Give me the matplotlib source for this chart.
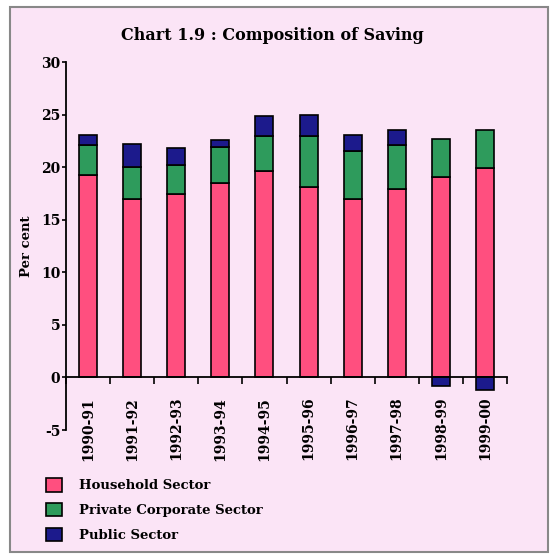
import matplotlib.pyplot as plt
from matplotlib.patches import Rectangle, Patch
import numpy as np

# Composition of saving, per cent of GDP
years = ['1990-91', '1991-92', '1992-93', '1993-94', '1994-95',
         '1995-96', '1996-97', '1997-98', '1998-99', '1999-00']
household = [19.3, 17.0, 17.4, 18.5, 19.6, 18.1, 17.0, 17.9, 19.1, 19.9]
private_corp = [2.8, 3.0, 2.8, 3.4, 3.4, 4.9, 4.5, 4.2, 3.6, 3.6]
public = [1.0, 2.2, 1.6, 0.7, 1.9, 2.0, 1.6, 1.4, -0.8, -1.2]

labels = ['Household Sector', 'Private Corporate Sector', 'Public Sector']
colors = ['#ff4f7f', '#2e9b5c', '#1c1a8c']
bg = '#fbe4f6'

plt.rcParams['font.family'] = 'DejaVu Serif'
plt.rcParams['font.weight'] = 'bold'
plt.rcParams['axes.unicode_minus'] = False

W, H = 551, 554
fig = plt.figure(figsize=(W / 100, H / 100), dpi=100)
fig.patch.set_facecolor('white')
fig.patches.append(Rectangle((10 / W, 1 - 552 / H), 538 / W, 545 / H,
                             transform=fig.transFigure, facecolor=bg,
                             edgecolor='#888888', lw=1.5, zorder=-5))

ax = fig.add_axes([66 / W, 1 - 430 / H, 441 / W, 368 / H])
ax.patch.set_alpha(0)

x = np.arange(len(years))
hh = np.array(household)
pc = np.array(private_corp)
pb = np.array(public)
pub_bottom = np.where(pb >= 0, hh + pc, 0)

kw = dict(width=0.41, edgecolor='black', linewidth=1.2)
ax.bar(x, hh, color=colors[0], **kw)
ax.bar(x, pc, bottom=hh, color=colors[1], **kw)
ax.bar(x, pb, bottom=pub_bottom, color=colors[2], **kw)

ax.set_xlim(-0.5, len(years) - 0.5)
ax.set_ylim(-5, 30)
ax.set_yticks(range(-5, 31, 5))
ax.tick_params(axis='y', labelsize=10, length=3, width=1.2, pad=1)

ax.spines['bottom'].set_position(('data', 0))
for s in ['top', 'right']:
    ax.spines[s].set_visible(False)
for s in ['bottom', 'left']:
    ax.spines[s].set_linewidth(1.3)

ax.set_xticks(x)
ax.set_xticklabels(years, rotation=90, fontsize=10)
ax.set_xticks(np.arange(-0.5, len(years)), minor=True)
ax.tick_params(axis='x', which='major', length=0, pad=14)
ax.tick_params(axis='x', which='minor', length=5, width=1.2)

ax.set_ylabel('Per cent', fontsize=9.5, fontweight='bold', labelpad=6)

fig.text(272 / W, 1 - 35 / H, 'Chart 1.9 : Composition of Saving',
         ha='center', va='center', fontsize=11.5, fontweight='bold')

handles = [Patch(facecolor=c, edgecolor='black', lw=1.2) for c in colors]
fig.legend(handles, labels, loc='upper left', bbox_to_anchor=(46 / W, 1 - 478 / H),
           frameon=False, fontsize=9.5, handlelength=1.2, handleheight=1.2,
           handletextpad=1.3, labelspacing=0.8, borderaxespad=0, borderpad=0)

fig.savefig('out.png', dpi=100)
